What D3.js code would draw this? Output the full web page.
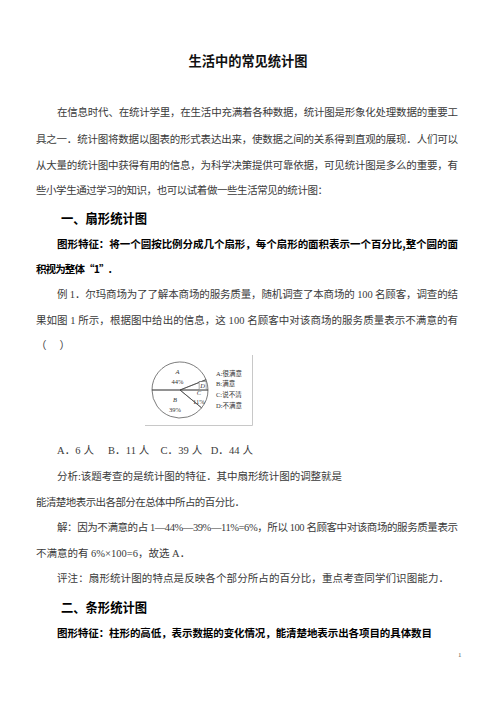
<!DOCTYPE html>
<html>
<head>
<meta charset="utf-8">
<script src="https://cdn.jsdelivr.net/npm/d3@7"></script>
<style>
  body { margin: 0; background: #fff; }
</style>
</head>
<body>
<script>
// Variables
const w = 496;
const h = 702;

// Datos del gráfico (orden en el sentido del reloj desde las 9)
const sliceKeys = ["A", "D", "C", "B"];
const sliceValues = [44, 6, 11, 39];
const sliceLabels = ["44%", "", "11%", "39%"];
const legendLabels = ["A:很满意", "B:满意", "C:说不清", "D:不满意"];

// Texto del documento
const bodyLines = [
  { t: "在信息时代、在统计学里，在生活中充满着各种数据，统计图是形象化处理数据的重要工", x: 57, y: 112, len: 401 },
  { t: "具之一．统计图将数据以图表的形式表达出来，使数据之间的关系得到直观的展现．人们可以", x: 36, y: 139, len: 422 },
  { t: "从大量的统计图中获得有用的信息，为科学决策提供可靠依据，可见统计图是多么的重要，有", x: 36, y: 165, len: 422 },
  { t: "些小学生通过学习的知识，也可以试着做一些生活常见的统计图：", x: 36, y: 190, len: 292 },
  { t: "例 1．尔玛商场为了了解本商场的服务质量，随机调查了本商场的 100 名顾客，调查的结", x: 57, y: 294, len: 401 },
  { t: "果如图 1 所示，根据图中给出的信息，这 100 名顾客中对该商场的服务质量表示不满意的有", x: 36, y: 320, len: 422 },
  { t: "（      ）", x: 36, y: 345, len: 34 },
  { t: "A．6 人     B．11 人    C．39 人   D．44 人", x: 57, y: 450, len: 196 },
  { t: "分析:该题考查的是统计图的特征．其中扇形统计图的调整就是", x: 57, y: 476, len: 285 },
  { t: "能清楚地表示出各部分在总体中所占的百分比．", x: 36, y: 502, len: 209 },
  { t: "解：因为不满意的占 1—44%—39%—11%=6%，所以 100 名顾客中对该商场的服务质量表示", x: 57, y: 527, len: 401 },
  { t: "不满意的有 6%×100=6，故选 A．", x: 36, y: 553, len: null },
  { t: "评注：扇形统计图的特点是反映各个部分所占的百分比，重点考查同学们识图能力．", x: 57, y: 578, len: 392 }
];
const boldLines = [
  { t: "图形特征：将一个圆按比例分成几个扇形，每个扇形的面积表示一个百分比,整个圆的面", x: 57, y: 243, len: 401 },
  { t: "积视为整体“1”.", x: 36, y: 268, len: 76 },
  { t: "图形特征：柱形的高低，表示数据的变化情况，能清楚地表示出各项目的具体数目", x: 57, y: 632, len: 375 }
];
const headings = [
  { t: "一、扇形统计图", x: 61, y: 217 },
  { t: "二、条形统计图", x: 61, y: 606 }
];

const fontBody = "'Liberation Serif', 'Noto Sans CJK SC', serif";
const fontBold = "'Noto Sans CJK SC', sans-serif";

const svg = d3.select("body")
  .append("svg")
  .attr("width", w)
  .attr("height", h);

svg.append("rect").attr("width", w).attr("height", h).attr("fill", "#fff");

// Título
svg.append("text")
  .attr("x", 248)
  .attr("y", 60)
  .attr("text-anchor", "middle")
  .attr("dominant-baseline", "central")
  .attr("font-family", fontBold)
  .attr("font-weight", 700)
  .attr("font-size", "13.5px")
  .attr("textLength", 119)
  .attr("lengthAdjust", "spacingAndGlyphs")
  .attr("fill", "#111")
  .text("生活中的常见统计图");

// Párrafos
svg.selectAll("text.body")
  .data(bodyLines)
  .enter()
  .append("text")
  .attr("class", "body")
  .attr("x", d => d.x)
  .attr("y", d => d.y)
  .attr("dominant-baseline", "central")
  .attr("font-family", fontBody)
  .attr("font-size", "10.5px")
  .attr("fill", "#3a3a3a")
  .attr("textLength", d => d.len)
  .attr("lengthAdjust", "spacing")
  .style("white-space", "pre")
  .text(d => d.t);

svg.selectAll("text.bold")
  .data(boldLines)
  .enter()
  .append("text")
  .attr("class", "bold")
  .attr("x", d => d.x)
  .attr("y", d => d.y)
  .attr("dominant-baseline", "central")
  .attr("font-family", fontBold)
  .attr("font-weight", 700)
  .attr("font-size", "10.5px")
  .attr("fill", "#000")
  .attr("textLength", d => d.len)
  .attr("lengthAdjust", "spacing")
  .text(d => d.t);

svg.selectAll("text.head")
  .data(headings)
  .enter()
  .append("text")
  .attr("class", "head")
  .attr("x", d => d.x)
  .attr("y", d => d.y)
  .attr("dominant-baseline", "central")
  .attr("font-family", fontBold)
  .attr("font-weight", 700)
  .attr("font-size", "13px")
  .attr("fill", "#000")
  .attr("textLength", 86)
  .attr("lengthAdjust", "spacingAndGlyphs")
  .text(d => d.t);

// Número de página
svg.append("text")
  .attr("x", 458)
  .attr("y", 655)
  .attr("dominant-baseline", "central")
  .attr("font-family", fontBody)
  .attr("font-size", "7px")
  .attr("fill", "#555")
  .text("1");

// Marco de la figura
const fig = svg.append("g");
fig.append("line")
  .attr("x1", 145).attr("x2", 252.5)
  .attr("y1", 425.5).attr("y2", 425.5)
  .attr("stroke", "#c8c8c8").attr("stroke-width", 1);
fig.append("line")
  .attr("x1", 252.5).attr("x2", 252.5)
  .attr("y1", 355).attr("y2", 425.5)
  .attr("stroke", "#c8c8c8").attr("stroke-width", 1);

// Gráfico circular
const cx = 180, cy = 390, r = 28;
const pie = d3.pie()
  .sort(null)
  .value(d => d.v)
  .startAngle(-Math.PI / 2)
  .endAngle(Math.PI * 1.5);
const arcs = pie(sliceKeys.map((k, i) => ({ k: k, v: sliceValues[i], p: sliceLabels[i] })));
const arc = d3.arc().innerRadius(0).outerRadius(r);

const pieG = fig.append("g").attr("transform", `translate(${cx},${cy})`);
pieG.selectAll("path")
  .data(arcs)
  .enter()
  .append("path")
  .attr("d", arc)
  .attr("fill", "none")
  .attr("stroke", "#444")
  .attr("stroke-width", 0.7);

const labelRadius = { A: 14, B: 15, C: 20, D: 23 };
const labelG = pieG.selectAll("g.lab")
  .data(arcs)
  .enter()
  .append("g")
  .attr("class", "lab")
  .attr("transform", d => {
    const rr = labelRadius[d.data.k];
    const c = d3.arc().innerRadius(rr).outerRadius(rr).centroid(d);
    return `translate(${c[0]},${c[1]})`;
  });

labelG.append("text")
  .attr("y", d => d.data.p ? -4.5 : 0)
  .attr("text-anchor", "middle")
  .attr("dominant-baseline", "central")
  .attr("font-family", "'Liberation Serif', serif")
  .attr("font-style", "italic")
  .attr("font-size", "6.5px")
  .attr("fill", "#333")
  .text(d => d.data.k);

labelG.append("text")
  .attr("y", d => d.data.k === "C" ? 4.5 : 5.5)
  .attr("text-anchor", "middle")
  .attr("dominant-baseline", "central")
  .attr("font-family", "'Liberation Serif', serif")
  .attr("font-size", "6.5px")
  .attr("fill", "#333")
  .text(d => d.data.p);

labelG.filter(d => d.data.k === "D")
  .insert("rect", "text")
  .attr("x", -3.5).attr("y", -4)
  .attr("width", 7).attr("height", 8)
  .attr("fill", "#fff")
  .attr("stroke", "#555")
  .attr("stroke-width", 0.5);

// Leyenda
const legendY = d3.scalePoint()
  .domain(legendLabels)
  .range([373, 405]);
fig.selectAll("text.leg")
  .data(legendLabels)
  .enter()
  .append("text")
  .attr("class", "leg")
  .attr("x", 216)
  .attr("y", d => legendY(d))
  .attr("dominant-baseline", "central")
  .attr("font-family", fontBody)
  .attr("font-size", "6.5px")
  .attr("fill", "#333")
  .text(d => d);
</script>
</body>
</html>
